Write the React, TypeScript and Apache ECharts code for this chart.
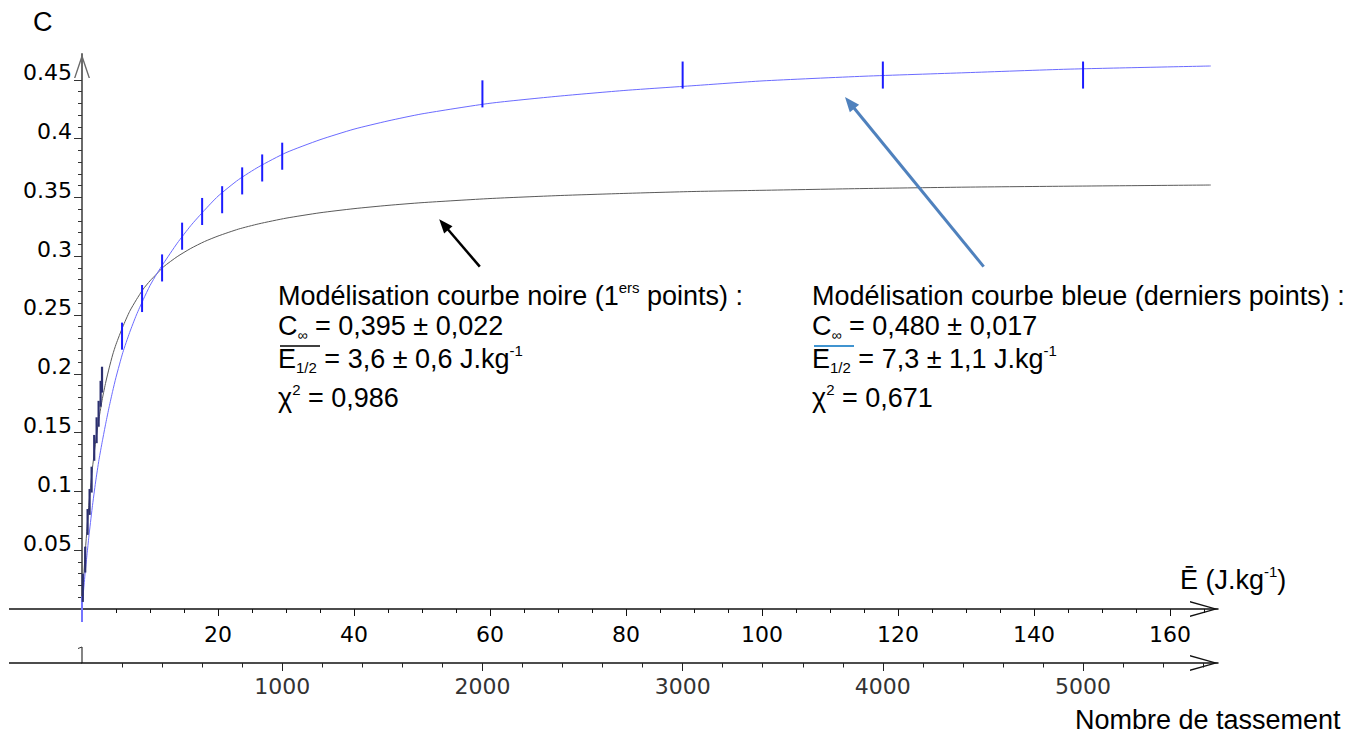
import React, { useEffect, useRef } from "react";
import * as echarts from "echarts";

// ---------- axis extents (values at the arrow tips) ----------
const E_MAX = 167.06; // J.kg-1
const TASS_MAX = 5674; // Nombre de tassement
const C_MAX = 0.4719;

// ---------- tick labels ----------
const E_LABELS = [20, 40, 60, 80, 100, 120, 140, 160];
const E_MINOR = [5, 10, 15, 25, 30, 35, 45, 50, 55, 65, 70, 75, 85, 90, 95, 105, 110, 115, 125, 130, 135, 145, 150, 155, 165];
const TASS_LABELS = [1000, 2000, 3000, 4000, 5000];
const TASS_MINOR = [200, 400, 600, 800, 1200, 1400, 1600, 1800, 2200, 2400, 2600, 2800, 3200, 3400, 3600, 3800, 4200, 4400, 4600, 4800, 5200, 5400, 5600];
const C_LABELS = [0.05, 0.1, 0.15, 0.2, 0.25, 0.3, 0.35, 0.4, 0.45];
const C_MINOR = [0.01, 0.02, 0.03, 0.04, 0.06, 0.07, 0.08, 0.09, 0.11, 0.12, 0.13, 0.14, 0.16, 0.17, 0.18, 0.19, 0.21, 0.22, 0.23, 0.24, 0.26, 0.27, 0.28, 0.29, 0.31, 0.32, 0.33, 0.34, 0.36, 0.37, 0.38, 0.39, 0.41, 0.42, 0.43, 0.44];

// ---------- measured points (x = nombre de tassement, C, half error bar) ----------
const ORIGIN_TASS = [0];
const ORIGIN_C = [0];
const ORIGIN_ERR = [0.011];

const FIRST_TASS = [4, 16, 28, 38, 48, 61, 73, 83, 93, 100];
const FIRST_C = [0.018, 0.042, 0.074, 0.091, 0.11, 0.137, 0.152, 0.166, 0.183, 0.195];
const FIRST_ERR = [0.012, 0.011, 0.011, 0.011, 0.011, 0.011, 0.011, 0.011, 0.011, 0.011];

const LAST_TASS = [200, 300, 400, 500, 600, 700, 800, 900, 1000, 2000, 3000, 4000, 5000];
const LAST_C = [0.232, 0.264, 0.29, 0.317, 0.338, 0.348, 0.364, 0.375, 0.385, 0.438, 0.454, 0.454, 0.454];
const LAST_ERR = [0.0115, 0.0115, 0.0115, 0.0115, 0.0115, 0.0115, 0.0115, 0.0115, 0.0115, 0.0115, 0.0115, 0.0115, 0.0115];

// ---------- fitted curves (x = E in J.kg-1) ----------
const FIT_E = [0, 0.25, 0.5, 0.75, 1, 1.5, 2, 2.5, 3, 3.5, 4, 4.5, 5, 6, 7, 8, 9, 10, 11, 12, 14, 16, 18, 20, 23, 26, 30, 35, 40, 45, 50, 60, 70, 80, 90, 100, 115, 130, 145, 166];
const BLACK_C = [0, 0.027, 0.05, 0.07, 0.088, 0.118, 0.142, 0.162, 0.179, 0.193, 0.205, 0.216, 0.225, 0.24, 0.253, 0.263, 0.272, 0.279, 0.285, 0.291, 0.2996, 0.3066, 0.3124, 0.3171, 0.323, 0.3275, 0.3323, 0.3369, 0.3404, 0.3432, 0.3455, 0.349, 0.3515, 0.3534, 0.355, 0.356, 0.3575, 0.3587, 0.3595, 0.3605];
const BLUE_C = [0, 0.017, 0.033, 0.047, 0.061, 0.086, 0.108, 0.127, 0.143, 0.158, 0.172, 0.185, 0.197, 0.218, 0.235, 0.25, 0.263, 0.275, 0.285, 0.294, 0.311, 0.326, 0.339, 0.351, 0.365, 0.376, 0.388, 0.399, 0.408, 0.415, 0.421, 0.43, 0.436, 0.441, 0.445, 0.449, 0.453, 0.456, 0.459, 0.4617];

// ---------- annotation arrows (E, C) : [tail, head] ----------
const BLACK_ARROW = [[58.5, 0.2911], [53.2, 0.3269]];
const BLUE_ARROW = [[132.6, 0.2911], [112.9, 0.4305]];

const SANS = '"Liberation Sans", Arial, sans-serif';
const TICK_FONT = '"DejaVu Sans", Verdana, sans-serif';
const BLUE_TXT = "#0070c0";
const TXT_SIZE = 27;

const zip3 = (a: number[], b: number[], c: number[]) => a.map((v, i) => [v, b[i], c[i]]);
const zip2 = (a: number[], b: number[]) => a.map((v, i) => [v, b[i]]);

const errorBarRender = (lw: number) => (params: any, api: any) => {
  const x = api.value(0);
  const y = api.value(1);
  const e = api.value(2);
  const p1 = api.coord([x, y - e]);
  const p2 = api.coord([x, y + e]);
  return {
    type: "line",
    shape: { x1: p1[0], y1: p1[1], x2: p2[0], y2: p2[1] },
    style: { stroke: api.visual("color"), lineWidth: lw },
  };
};

const rich = (color: string) => ({
  n: { fontFamily: SANS, fontSize: TXT_SIZE, color, lineHeight: 32 },
  sup: { fontFamily: SANS, fontSize: 15, color, lineHeight: 10, verticalAlign: "top" },
  sub: { fontFamily: SANS, fontSize: 14, color, lineHeight: 15, verticalAlign: "bottom" },
  sub2: { fontFamily: SANS, fontSize: 15, color, lineHeight: 9, verticalAlign: "bottom" },
});

const textLine = (x: number, y: number, text: string, color: string) => ({
  type: "text",
  x,
  y,
  silent: true,
  style: { text, rich: rich(color), align: "left", verticalAlign: "middle" },
});

const block = (x: number, color: string, lines: string[]) => [
  textLine(x, 296, lines[0], color),
  textLine(x, 326, lines[1], color),
  textLine(x, 359, lines[2], color),
  textLine(x, 398, lines[3], color),
  {
    type: "line",
    silent: true,
    shape: { x1: x + 2, y1: 346, x2: x + 42, y2: 346 },
    style: { stroke: color, lineWidth: 1.5 },
  },
];

const Y_ARROW = "path://M0,24 L8,0 L16,24 L14.6,24 L8,4.5 L1.4,24 Z";
const X_ARROW = "path://M0,28 L8,0 L16,28 L14.6,28 L8,4.5 L1.4,28 Z";

const plain = (v: number) => String(v);

export default function App() {
  const ref = useRef<HTMLDivElement>(null);

  useEffect(() => {
    const chart = echarts.init(ref.current!, null, { renderer: "svg" });

    const xBase = {
      type: "value",
      position: "bottom",
      splitLine: { show: false },
      minorTick: { show: false },
    };

    const option: any = {
      animation: false,
      backgroundColor: "#ffffff",
      grid: { left: 82, right: 141, top: 54, bottom: 127, containLabel: false },
      xAxis: [
        {
          ...xBase,
          min: 0,
          max: E_MAX,
          axisLine: {
            show: true,
            onZero: false,
            symbol: ["none", X_ARROW],
            symbolSize: [16, 28],
            symbolOffset: [0, -14],
            lineStyle: { color: "#111", width: 1.5 },
          },
          axisTick: { show: true, customValues: E_LABELS, length: 7, lineStyle: { color: "#111", width: 1 } },
          axisLabel: {
            show: true,
            customValues: E_LABELS,
            margin: 14,
            fontFamily: TICK_FONT,
            fontSize: 22,
            color: "#000",
            formatter: plain,
          },
        },
        {
          ...xBase,
          min: 0,
          max: E_MAX,
          axisLine: { show: false, onZero: false },
          axisTick: { show: true, customValues: E_MINOR, length: 4, lineStyle: { color: "#111", width: 1 } },
          axisLabel: { show: false },
        },
        {
          ...xBase,
          min: 0,
          max: TASS_MAX,
          offset: 54,
          axisLine: {
            show: true,
            onZero: false,
            symbol: ["none", X_ARROW],
            symbolSize: [16, 28],
            symbolOffset: [0, -14],
            lineStyle: { color: "#111", width: 1.5 },
          },
          axisTick: { show: true, customValues: TASS_LABELS, length: 8, lineStyle: { color: "#222", width: 1 } },
          axisLabel: {
            show: true,
            customValues: TASS_LABELS,
            margin: 12,
            fontFamily: TICK_FONT,
            fontSize: 22,
            color: "#333",
            formatter: plain,
          },
        },
        {
          ...xBase,
          min: 0,
          max: TASS_MAX,
          offset: 54,
          axisLine: { show: false, onZero: false },
          axisTick: { show: true, customValues: TASS_MINOR, length: 4.5, lineStyle: { color: "#222", width: 1 } },
          axisLabel: { show: false },
        },
      ],
      yAxis: [
        {
          type: "value",
          min: 0,
          max: C_MAX,
          position: "left",
          splitLine: { show: false },
          minorTick: { show: false },
          axisLine: {
            show: true,
            onZero: false,
            symbol: ["none", Y_ARROW],
            symbolSize: [16, 24],
            symbolOffset: [0, -12],
            lineStyle: { color: "#6a6a6a", width: 2 },
          },
          axisTick: { show: true, customValues: C_LABELS, length: 8, lineStyle: { color: "#333", width: 1 } },
          axisLabel: {
            show: true,
            customValues: C_LABELS,
            margin: 10,
            verticalAlign: "bottom",
            lineHeight: 14,
            fontFamily: TICK_FONT,
            fontSize: 22,
            color: "#000",
            formatter: plain,
          },
        },
        {
          type: "value",
          min: 0,
          max: C_MAX,
          position: "left",
          splitLine: { show: false },
          minorTick: { show: false },
          axisLine: { show: false, onZero: false },
          axisTick: { show: true, customValues: C_MINOR, length: 4, lineStyle: { color: "#333", width: 1 } },
          axisLabel: { show: false },
        },
      ],
      series: [
        {
          name: "Modélisation courbe noire",
          type: "line",
          xAxisIndex: 0,
          yAxisIndex: 0,
          data: zip2(FIT_E, BLACK_C),
          smooth: 0.2,
          showSymbol: false,
          clip: false,
          lineStyle: { color: "#5a5a5a", width: 1 },
          z: 2,
          markLine: {
            silent: true,
            symbol: ["none", "triangle"],
            symbolSize: [11, 14],
            label: { show: false },
            lineStyle: { color: "#000", width: 2.5, type: "solid" },
            data: [[{ coord: BLACK_ARROW[0] }, { coord: BLACK_ARROW[1] }]],
          },
        },
        {
          name: "Modélisation courbe bleue",
          type: "line",
          xAxisIndex: 0,
          yAxisIndex: 0,
          data: zip2(FIT_E, BLUE_C),
          smooth: 0.2,
          showSymbol: false,
          clip: false,
          lineStyle: { color: "#6b6bff", width: 1 },
          z: 2,
          markLine: {
            silent: true,
            symbol: ["none", "triangle"],
            symbolSize: [12, 15],
            label: { show: false },
            lineStyle: { color: "#4f81bd", width: 3, type: "solid" },
            data: [[{ coord: BLUE_ARROW[0] }, { coord: BLUE_ARROW[1] }]],
          },
        },
        {
          name: "origine",
          type: "custom",
          xAxisIndex: 2,
          yAxisIndex: 0,
          renderItem: errorBarRender(2),
          itemStyle: { color: "#7474ff" },
          encode: { x: 0, y: 1 },
          clip: false,
          data: zip3(ORIGIN_TASS, ORIGIN_C, ORIGIN_ERR),
          z: 4,
        },
        {
          name: "premiers points",
          type: "custom",
          xAxisIndex: 2,
          yAxisIndex: 0,
          renderItem: errorBarRender(2.2),
          itemStyle: { color: "#2c3070" },
          encode: { x: 0, y: 1 },
          clip: false,
          data: zip3(FIRST_TASS, FIRST_C, FIRST_ERR),
          z: 4,
        },
        {
          name: "derniers points",
          type: "custom",
          xAxisIndex: 2,
          yAxisIndex: 0,
          renderItem: errorBarRender(2),
          itemStyle: { color: "#1c1cff" },
          encode: { x: 0, y: 1 },
          clip: false,
          data: zip3(LAST_TASS, LAST_C, LAST_ERR),
          z: 4,
        },
      ],
      graphic: [
        // left extensions of both horizontal axes
        { type: "line", silent: true, shape: { x1: 9, y1: 609, x2: 82, y2: 609 }, style: { stroke: "#111", lineWidth: 1.5 } },
        { type: "line", silent: true, shape: { x1: 9, y1: 663, x2: 82, y2: 663 }, style: { stroke: "#111", lineWidth: 1.5 } },
        { type: "line", silent: true, shape: { x1: 82, y1: 647, x2: 82, y2: 663 }, style: { stroke: "#333", lineWidth: 1.2 } },
        { type: "line", silent: true, shape: { x1: 78, y1: 648.5, x2: 82, y2: 647 }, style: { stroke: "#333", lineWidth: 1 } },
        // axis names
        {
          type: "text",
          x: 33,
          y: 22,
          silent: true,
          style: { text: "C", fontFamily: SANS, fontSize: TXT_SIZE, fill: "#000", align: "left", verticalAlign: "middle" },
        },
        {
          type: "text",
          x: 1180,
          y: 580,
          silent: true,
          style: {
            text: "{n|Ē (J.kg}{sup|-1}{n|)}",
            rich: rich("#000"),
            align: "left",
            verticalAlign: "middle",
          },
        },
        {
          type: "text",
          x: 1075,
          y: 720,
          silent: true,
          style: { text: "Nombre de tassement", fontFamily: SANS, fontSize: TXT_SIZE, fill: "#000", align: "left", verticalAlign: "middle" },
        },
        // annotation blocks
        ...block(278, "#000", [
          "{n|Modélisation courbe noire (1}{sup|ers}{n| points) :}",
          "{n|C}{sub|∞}{n| = 0,395 ± 0,022}",
          "{n|E}{sub2|1/2}{n| = 3,6 ± 0,6 J.kg}{sup|-1}",
          "{n|χ}{sup|2}{n| = 0,986}",
        ]),
        ...block(812, BLUE_TXT, [
          "{n|Modélisation courbe bleue (derniers points) :}",
          "{n|C}{sub|∞}{n| = 0,480 ± 0,017}",
          "{n|E}{sub2|1/2}{n| = 7,3 ± 1,1 J.kg}{sup|-1}",
          "{n|χ}{sup|2}{n| = 0,671}",
        ]),
      ],
    };

    chart.setOption(option);
    return () => chart.dispose();
  }, []);

  return (
    <div
      ref={ref}
      style={{ position: "absolute", left: 0, top: 0, width: 1359, height: 736, background: "#fff" }}
    />
  );
}
